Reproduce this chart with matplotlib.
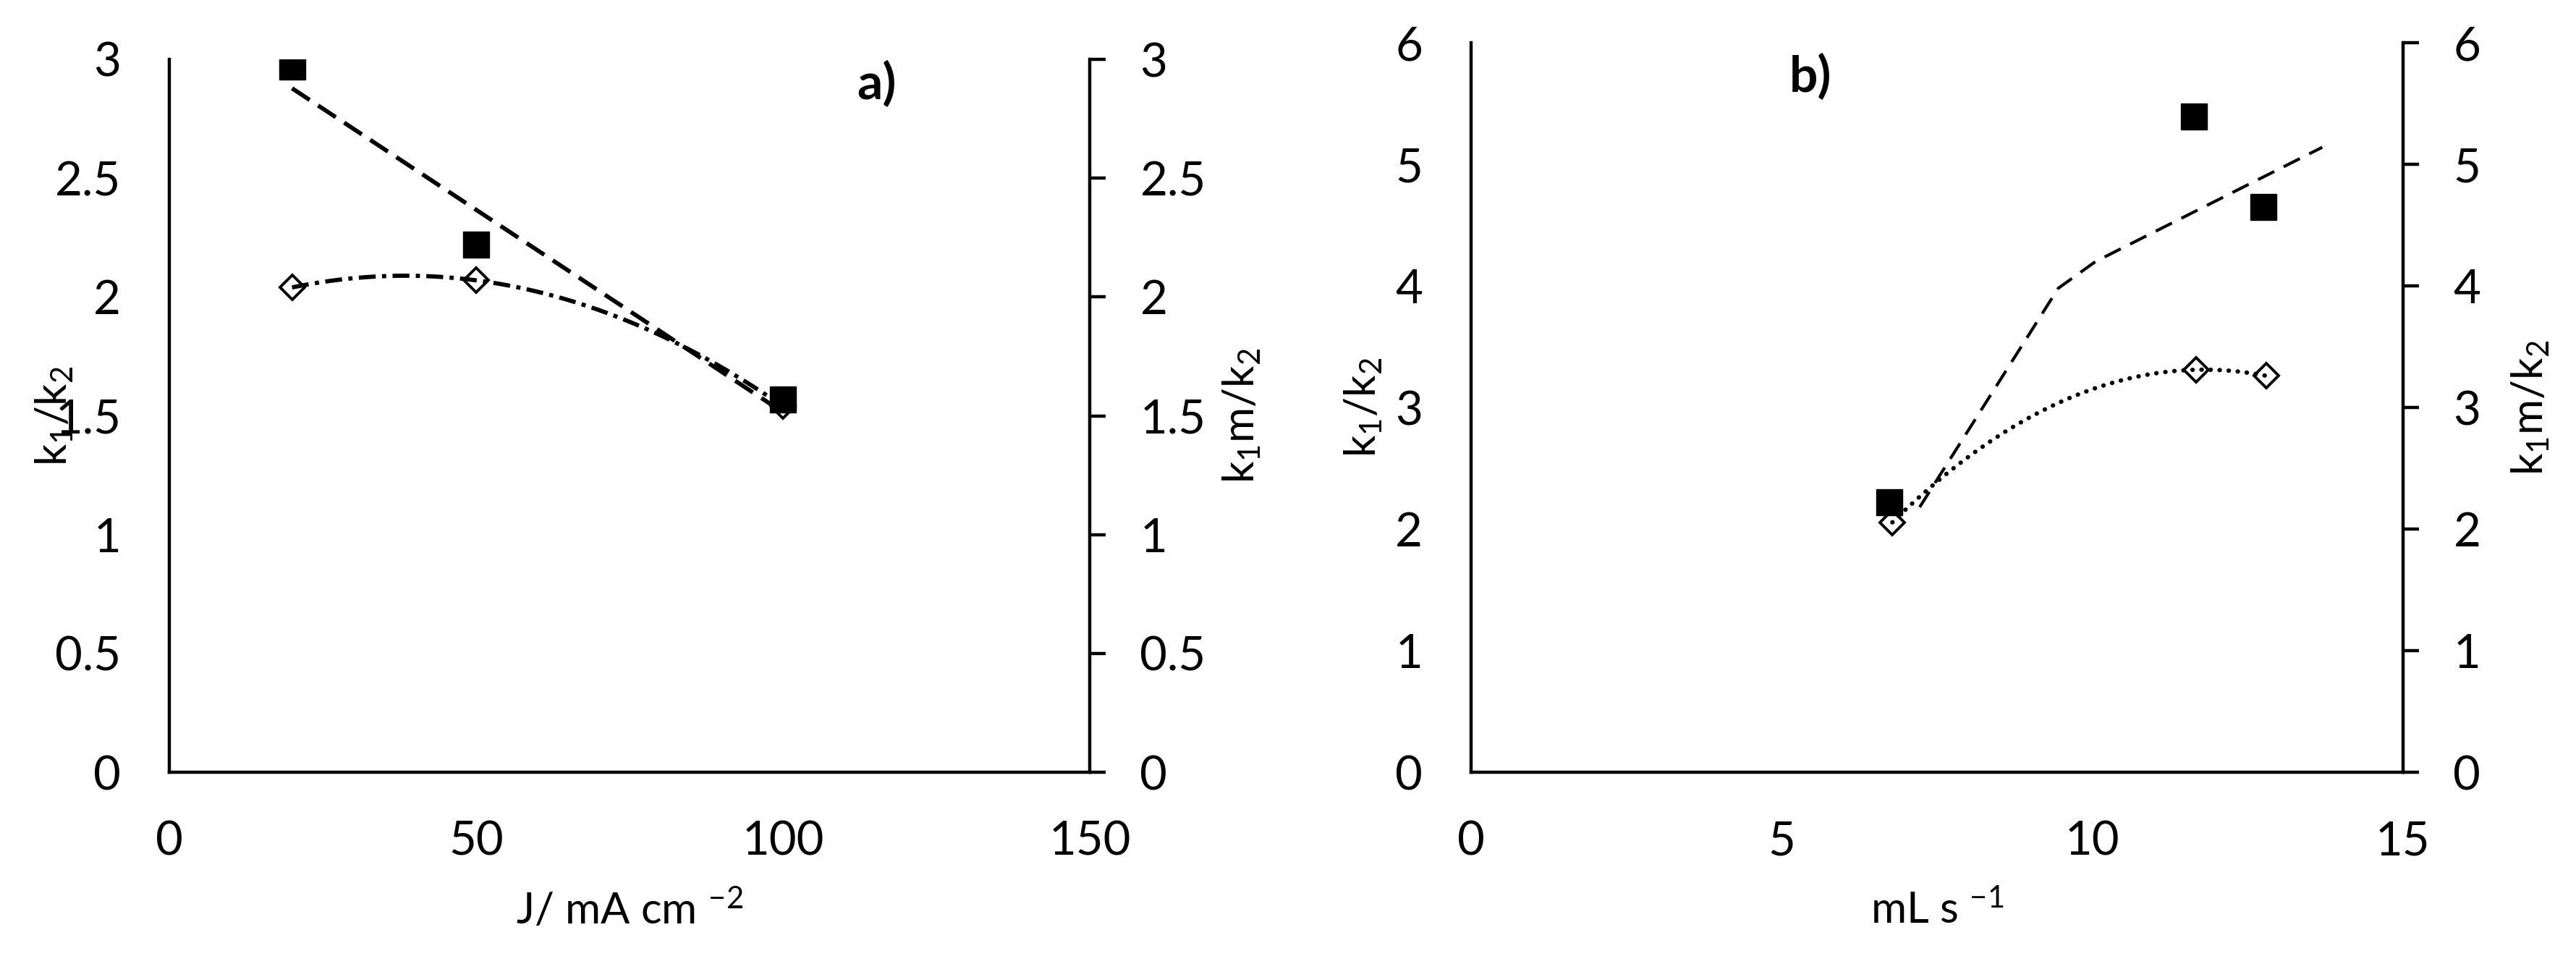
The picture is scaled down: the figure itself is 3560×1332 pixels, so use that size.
import numpy as np
import matplotlib
matplotlib.use("Agg")
import matplotlib.pyplot as plt
from matplotlib.ticker import FuncFormatter, MultipleLocator

plt.rcParams['font.family'] = ['Lato', 'DejaVu Sans']
plt.rcParams['mathtext.fontset'] = 'custom'
plt.rcParams['mathtext.rm'] = 'Lato'
plt.rcParams['mathtext.it'] = 'Lato:italic'
plt.rcParams['mathtext.bf'] = 'Lato:bold'

# panel a) : current density
j_sq = [20, 50, 100]
k_ratio_a = [2.97, 2.22, 1.57]
j_dia = [20, 50, 100]
km_ratio_a = [2.04, 2.07, 1.54]

# panel b) : flow rate
flow_sq = [6.73, 11.63, 12.75]
k_ratio_b = [2.22, 5.39, 4.65]
flow_dia = [6.78, 11.67, 12.80]
km_ratio_b = [2.055, 3.31, 3.26]
# dashed guide line in b)
guide_x = [7.22, 9.45, 10.05, 13.70]
guide_y = [2.18, 3.98, 4.20, 5.14]

W, H = 3560, 1332
fig = plt.figure(figsize=(W / 100, H / 100), dpi=100)

TICK_FS = 47
LABEL_FS = 43
LW_SPINE = 3.2
fmt = FuncFormatter(lambda v, p: f"{v:g}")


def style_axes(ax, ax2, xmax, xstep, ymax, ystep):
    ax.set_xlim(0, xmax)
    ax.set_ylim(0, ymax)
    ax2.set_ylim(0, ymax)
    ax.xaxis.set_major_locator(MultipleLocator(xstep))
    ax.yaxis.set_major_locator(MultipleLocator(ystep))
    ax2.yaxis.set_major_locator(MultipleLocator(ystep))
    for a in (ax, ax2):
        a.xaxis.set_major_formatter(fmt)
        a.yaxis.set_major_formatter(fmt)
        for s in a.spines.values():
            s.set_visible(False)
            s.set_linewidth(LW_SPINE)
    ax.spines['left'].set_visible(True)
    ax.spines['bottom'].set_visible(True)
    ax2.spines['right'].set_visible(True)
    ax.tick_params(axis='x', length=0, pad=48, labelsize=TICK_FS)
    ax.tick_params(axis='y', length=0, pad=48, labelsize=TICK_FS)
    ax2.tick_params(axis='y', length=16, width=LW_SPINE, direction='out',
                    pad=34, labelsize=TICK_FS)


# ---------------- a) ----------------
ax_a = fig.add_axes([234 / W, (H - 1067) / H, 1272 / W, 985 / H])
ax_a2 = ax_a.twinx()
style_axes(ax_a, ax_a2, 150, 50, 3, 0.5)

# linear trendline of the squares, 2nd order one of the diamonds
xs = np.linspace(min(j_sq), max(j_sq), 50)
lin = np.polyfit(j_sq, k_ratio_a, 1)
ax_a.plot(xs, np.polyval(lin, xs), color='black', lw=4.2,
          linestyle=(0, (5.0, 2.4)), zorder=2)
xs2 = np.linspace(min(j_dia), max(j_dia), 100)
quad = np.polyfit(j_dia, km_ratio_a, 2)
ax_a2.plot(xs2, np.polyval(quad, xs2), color='black', lw=4.2,
           linestyle=(0, (4.0, 1.5, 1.0, 1.5)), zorder=2)
ax_a.plot(j_sq, k_ratio_a, linestyle='none', marker='s', ms=26,
          color='black', zorder=3)
ax_a2.plot(j_dia, km_ratio_a, linestyle='none', marker='D', ms=17,
           mfc='none', mec='black', mew=2.8, zorder=3)

ax_a.set_xlabel(r'J/ mA cm $^{\mathregular{-2}}$', fontsize=LABEL_FS)
ax_a.set_ylabel(r'$\mathregular{k_1/k_2}$', fontsize=LABEL_FS)
ax_a2.set_ylabel(r'$\mathregular{k_1m/k_2}$', fontsize=LABEL_FS)
ax_a.xaxis.set_label_coords(0.5, -0.193)
ax_a.yaxis.set_label_coords(-0.125, 0.5)
ax_a2.yaxis.set_label_coords(1.165, 0.5)

# ---------------- b) ----------------
ax_b = fig.add_axes([2033 / W, (H - 1067) / H, 1288 / W, 1008 / H])
ax_b2 = ax_b.twinx()
style_axes(ax_b, ax_b2, 15, 5, 6, 1)

ax_b.plot(guide_x, guide_y, color='black', lw=3.0,
          linestyle=(0, (6.0, 3.5)), zorder=2)
xs3 = np.linspace(min(flow_dia), max(flow_dia), 100)
quad_b = np.polyfit(flow_dia, km_ratio_b, 2)
ax_b2.plot(xs3, np.polyval(quad_b, xs3), color='black', lw=4.4,
           linestyle=(0, (0.05, 2.0)), dash_capstyle='round', zorder=4)
ax_b.plot(flow_sq, k_ratio_b, linestyle='none', marker='s', ms=26,
          color='black', zorder=3)
ax_b2.plot(flow_dia, km_ratio_b, linestyle='none', marker='D', ms=17,
           mfc='none', mec='black', mew=2.8, zorder=3)

ax_b.set_xlabel(r'mL s $^{\mathregular{-1}}$', fontsize=LABEL_FS)
ax_b.set_ylabel(r'$\mathregular{k_1/k_2}$', fontsize=LABEL_FS)
ax_b2.set_ylabel(r'$\mathregular{k_1m/k_2}$', fontsize=LABEL_FS)
ax_b.xaxis.set_label_coords(0.5, -0.1885)
ax_b.yaxis.set_label_coords(-0.1157, 0.5)
ax_b2.yaxis.set_label_coords(1.137, 0.5)

for a in (ax_a, ax_b, ax_a2, ax_b2):
    a.xaxis.label.set_va('center')
    a.yaxis.label.set_va('center')

fig.text(1212 / W, 1 - 117 / H, 'a)', fontsize=50, fontweight='bold',
         ha='center', va='center')
fig.text(2502 / W, 1 - 106 / H, 'b)', fontsize=50, fontweight='bold',
         ha='center', va='center')

fig.savefig('out.png', dpi=100, facecolor='white')
